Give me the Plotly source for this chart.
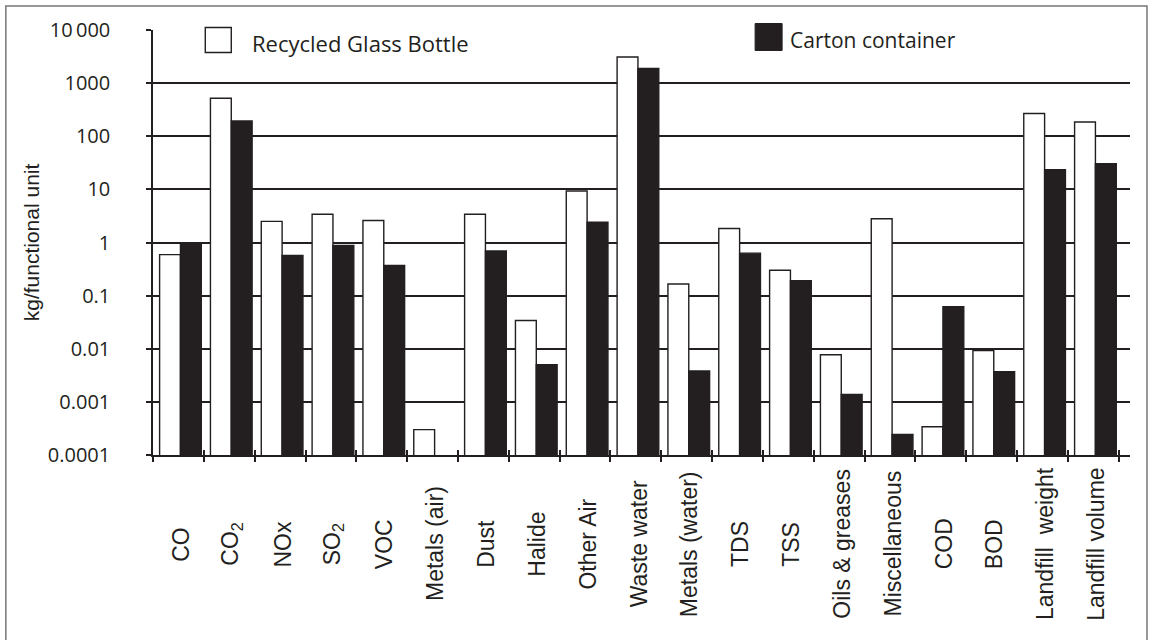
import plotly.graph_objects as go

categories = ["CO", "CO<sub>2</sub>", "NOx", "SO<sub>2</sub>", "VOC", "Metals (air)",
              "Dust", "Halide", "Other Air", "Waste water", "Metals (water)", "TDS",
              "TSS", "Oils &amp; greases", "Miscellaneous", "COD", "BOD",
              "Landfill  weight", "Landfill volume"]
glass = [0.59, 520, 2.5, 3.4, 2.6, 0.0003, 3.4, 0.034, 9.3, 3100, 0.166, 1.84,
         0.30, 0.0077, 2.8, 0.00034, 0.0092, 268, 186]
carton = [0.96, 194, 0.57, 0.88, 0.37, None, 0.69, 0.005, 2.4, 1890, 0.0038, 0.63,
          0.19, 0.00138, 0.000245, 0.062, 0.0037, 23.5, 30.5]
tick_vals = [0.0001, 0.001, 0.01, 0.1, 1, 10, 100, 1000, 10000]
tick_text = ["0.0001", "0.001", "0.01", "0.1", "1", "10", "100", "1000", "10\u2009000"]
series_names = ["Recycled Glass Bottle", "Carton container"]

W, H = 1149, 640
L, R, T, B = 152.7, 1130, 29.5, 455
DARK = "#231f20"
TICKFONT = "Open Sans"
LABFONT = "Liberation Sans"

def px(xp):
    return (xp - L) / (R - L)

def py(yp):
    return (B - yp) / (B - T)

xpos = list(range(len(categories)))

fig = go.Figure()
fig.add_trace(go.Bar(x=xpos, y=glass, name=series_names[0], width=0.41, offset=-0.37,
                     marker=dict(color="white", line=dict(color=DARK, width=1.4)),
                     showlegend=False))
fig.add_trace(go.Bar(x=xpos, y=carton, name=series_names[1], width=0.41, offset=0.04,
                     marker=dict(color=DARK, line=dict(color=DARK, width=1.4)),
                     showlegend=False))
# invisible helper trace to draw inward tick halves
fig.add_trace(go.Scatter(x=xpos, y=glass, xaxis="x2", yaxis="y2", mode="markers",
                         marker=dict(opacity=0), hoverinfo="skip", showlegend=False))

fig.update_layout(
    width=W, height=H,
    margin=dict(l=L, r=W - R, t=T, b=H - B),
    paper_bgcolor="white", plot_bgcolor="white",
    barmode="overlay",
    xaxis=dict(range=[-0.5, 18.72], tickvals=[i - 0.5 for i in range(20)],
               showticklabels=False, ticks="outside", ticklen=5, tickwidth=1.5,
               tickcolor=DARK, showline=True, linecolor=DARK, linewidth=1.5,
               showgrid=False, zeroline=False, fixedrange=True),
    xaxis2=dict(range=[-0.5, 18.72], tickvals=[i - 0.5 for i in range(20)] + [18.72],
                overlaying="x", showticklabels=False, ticks="inside", ticklen=5,
                tickwidth=1.5, tickcolor=DARK, showline=False, showgrid=False,
                zeroline=False),
    yaxis=dict(type="log", range=[-4, 4], tickvals=tick_vals, ticktext=tick_text,
               ticks="outside", ticklen=5, tickwidth=1.5, tickcolor=DARK,
               ticklabelstandoff=32,
               tickfont=dict(family=TICKFONT, size=20, color="#231f20"),
               showline=True, linecolor=DARK, linewidth=1.5,
               showgrid=True, gridcolor=DARK, gridwidth=1.5, zeroline=False,
               title=dict(text="kg/functional unit", standoff=2,
                          font=dict(family=LABFONT, size=21, color=DARK))),
    yaxis2=dict(type="log", range=[-4, 4], tickvals=tick_vals, overlaying="y",
                showticklabels=False, ticks="inside", ticklen=5, tickwidth=1.5,
                tickcolor=DARK, showgrid=False, zeroline=False, showline=False),
    showlegend=False,
)

# category labels (rotated, centred below the axis)
for i, c in enumerate(categories):
    fig.add_annotation(x=i + 0.05, y=py(544), xref="x", yref="paper", text=c,
                       textangle=-90, showarrow=False, xanchor="center",
                       yanchor="middle",
                       font=dict(family=LABFONT, size=23, color=DARK))

# legend boxes and labels
fig.add_shape(type="rect", xref="paper", yref="paper", x0=px(205), x1=px(231),
              y0=py(52), y1=py(27), fillcolor="white", line=dict(color=DARK, width=1.4))
fig.add_annotation(x=px(250), y=py(43), xref="paper", yref="paper",
                   text=series_names[0], showarrow=False, xanchor="left",
                   yanchor="middle", font=dict(family=TICKFONT, size=22, color=DARK))
fig.add_shape(type="rect", xref="paper", yref="paper", x0=px(755), x1=px(782),
              y0=py(50), y1=py(23), fillcolor=DARK, line=dict(color=DARK, width=1))
fig.add_annotation(x=px(788), y=py(40), xref="paper", yref="paper",
                   text=series_names[1], showarrow=False, xanchor="left",
                   yanchor="middle", font=dict(family=TICKFONT, size=21, color=DARK))

# outer frame
fig.add_shape(type="rect", xref="paper", yref="paper", x0=px(5.5), x1=px(1147),
              y0=py(660), y1=py(5.5), line=dict(color="#777777", width=1.5))

fig.write_html("out.html", config={"displayModeBar": False},
               post_script="document.body.style.margin='0';document.body.style.overflow='hidden';")
